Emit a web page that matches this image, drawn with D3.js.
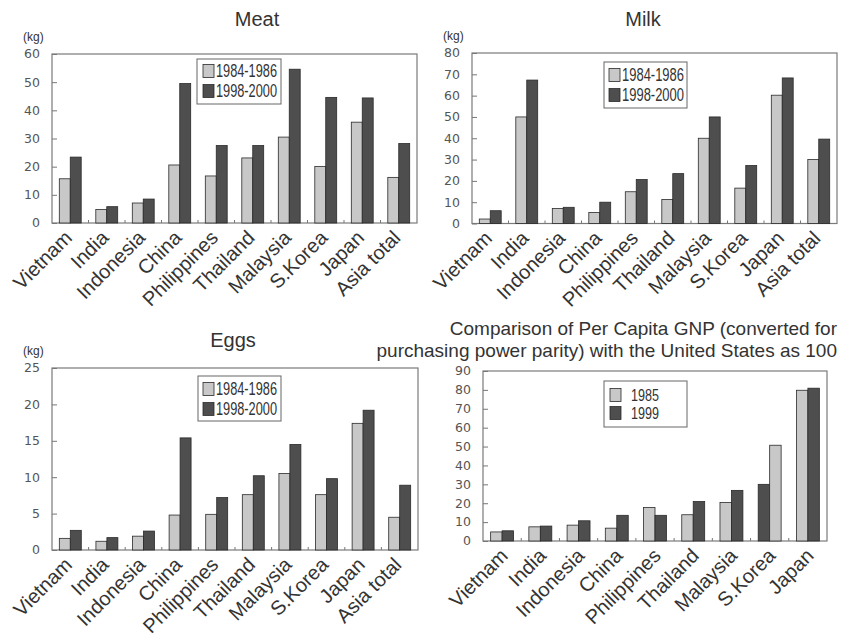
<!DOCTYPE html>
<html>
<head>
<meta charset="utf-8">
<script src="https://cdn.jsdelivr.net/npm/d3@7"></script>
<style>
  html, body { margin: 0; padding: 0; background: #fff; }
  svg { display: block; font-family: "Liberation Sans", Arial, sans-serif; }
</style>
</head>
<body>
<svg id="chart" width="843" height="636"></svg>
<script>
// food supply per capita (kg / year)
const foodCountries = ["Vietnam", "India", "Indonesia", "China", "Philippines", "Thailand", "Malaysia", "S.Korea", "Japan", "Asia total"];
const periodLabels = ["1984-1986", "1998-2000"];
const meat8486 = [15.7, 4.8, 7.1, 20.6, 16.7, 23.1, 30.5, 20.1, 35.8, 16.2];
const meat9800 = [23.4, 5.8, 8.5, 49.5, 27.5, 27.5, 54.6, 44.6, 44.4, 28.2];
const milk8486 = [2.1, 50, 7, 5.2, 14.9, 11.3, 40, 16.6, 60.2, 30];
const milk9800 = [6, 67.3, 7.6, 10, 20.6, 23.4, 50, 27.2, 68.3, 39.6];
const eggs8486 = [1.6, 1.2, 1.9, 4.8, 4.9, 7.6, 10.5, 7.6, 17.4, 4.5];
const eggs9800 = [2.7, 1.7, 2.6, 15.4, 7.2, 10.2, 14.5, 9.8, 19.2, 8.9];
const meatTicks = [0, 10, 20, 30, 40, 50, 60];
const milkTicks = [0, 10, 20, 30, 40, 50, 60, 70, 80];
const eggsTicks = [0, 5, 10, 15, 20, 25];

// GNP per capita (PPP), USA = 100
const gnpCountries = ["Vietnam", "India", "Indonesia", "China", "Philippines", "Thailand", "Malaysia", "S.Korea", "Japan"];
const gnpYears = ["1985", "1999"];
const gnp1985 = [4.8, 7.5, 8.4, 6.8, 17.7, 13.9, 20.4, 30, 79.8];
const gnp1999 = [5.4, 7.9, 10.7, 13.6, 13.6, 20.9, 26.8, 50.7, 80.9];
const gnpTicks = [0, 10, 20, 30, 40, 50, 60, 70, 80, 90];
// the original draws these bars with swapped shades
const swappedShade = ["S.Korea"];

const LIGHT = "#c8c8c8", DARK = "#4e4e4e";
const svg = d3.select("#chart");

function drawPanel(p) {
  const g = svg.append("g");
  const x = d3.scaleBand().domain(p.cats).range([p.left, p.right]).paddingInner(0.4).paddingOuter(0.2);
  const x1 = d3.scaleBand().domain([0, 1]).range([0, x.bandwidth()]);
  const y = d3.scaleLinear().domain([0, p.max]).range([p.bottom, p.top]);

  // frame
  g.append("rect")
    .attr("x", p.left).attr("y", p.top)
    .attr("width", p.right - p.left).attr("height", p.bottom - p.top)
    .attr("fill", "none").attr("stroke", "#7a7a7a").attr("stroke-width", 1.2);

  // y axis, ticks pointing inward
  const ya = g.append("g")
    .attr("transform", `translate(${p.left},0)`)
    .call(d3.axisRight(y).tickValues(p.ticks).tickSize(5).tickFormat(""));
  ya.select(".domain").remove();
  ya.selectAll("line").attr("stroke", "#777");
  g.selectAll(".ylab").data(p.ticks).enter().append("text")
    .attr("x", p.left - 12)
    .attr("y", d => y(d))
    .attr("dy", "0.35em")
    .attr("text-anchor", "end")
    .style("font-family", "'DejaVu Sans', sans-serif")
    .style("font-size", "12.5px")
    .attr("fill", "#555")
    .text(d => d);

  // small boundary ticks on the category axis
  g.selectAll(".xtick").data(p.cats.slice(1)).enter().append("line")
    .attr("x1", d => x(d) - x.step() * x.paddingInner() / 2)
    .attr("x2", d => x(d) - x.step() * x.paddingInner() / 2)
    .attr("y1", p.bottom).attr("y2", p.bottom - 3)
    .attr("stroke", "#777");

  // bars
  p.series.forEach((vals, si) => {
    g.selectAll(null).data(p.cats).enter().append("rect")
      .attr("x", d => x(d) + x1(si))
      .attr("y", (d, i) => y(vals[i]))
      .attr("width", x1.bandwidth())
      .attr("height", (d, i) => p.bottom - y(vals[i]))
      .attr("fill", d => {
        const swap = !!(p.swap && p.swap.includes(d));
        return (si === 0) !== swap ? LIGHT : DARK;
      })
      .attr("stroke", "#2a2a2a")
      .attr("stroke-width", 0.8);
  });

  // category labels
  g.selectAll(".xlab").data(p.cats).enter().append("text")
    .attr("transform", d => `translate(${x(d) + x.bandwidth() / 2 + p.labelDx},${p.bottom + 16}) rotate(-45)`)
    .attr("text-anchor", "end")
    .style("font-size", "20px")
    .attr("fill", "#333")
    .text(d => d);

  // title
  p.title.forEach((t, i) => {
    g.append("text")
      .attr("x", p.titleX).attr("y", p.titleY + i * 22)
      .attr("text-anchor", p.titleAnchor)
      .style("font-size", p.titleSize)
      .attr("fill", "#333")
      .text(t);
  });

  if (p.unit) {
    g.append("text")
      .attr("x", p.left - 29).attr("y", p.top - 13)
      .style("font-size", "12px")
      .attr("fill", "#333")
      .text(p.unit);
  }

  // legend
  const L = p.legend;
  const lg = g.append("g").attr("transform", `translate(${L.x},${L.y})`);
  lg.append("rect")
    .attr("width", L.w).attr("height", L.h)
    .attr("fill", "#fff").attr("stroke", "#666").attr("stroke-width", 1);
  p.names.forEach((name, i) => {
    const cy = L.row0 + i * L.rowGap;
    lg.append("rect")
      .attr("x", L.sx).attr("y", cy - 6.5)
      .attr("width", 11).attr("height", 13)
      .attr("fill", i === 0 ? LIGHT : DARK)
      .attr("stroke", "#2a2a2a").attr("stroke-width", 0.8);
    lg.append("text")
      .attr("x", L.tx).attr("y", cy)
      .attr("dy", "0.36em")
      .attr("textLength", L.tw)
      .attr("lengthAdjust", "spacingAndGlyphs")
      .style("font-size", L.fs)
      .attr("fill", "#333")
      .text(name);
  });
}

drawPanel({
  cats: foodCountries, series: [meat8486, meat9800], names: periodLabels,
  left: 52, right: 417, top: 54, bottom: 223, max: 60, ticks: meatTicks, labelDx: 3,
  title: ["Meat"], titleX: 257, titleY: 26, titleAnchor: "middle", titleSize: "20px", unit: "(kg)",
  legend: {x: 197, y: 59, w: 84, h: 45, sx: 6, tx: 19, tw: 61, row0: 12, rowGap: 20, fs: "18px"}
});

drawPanel({
  cats: foodCountries, series: [milk8486, milk9800], names: periodLabels,
  left: 472, right: 837, top: 53, bottom: 223.5, max: 80, ticks: milkTicks, labelDx: 3,
  title: ["Milk"], titleX: 643, titleY: 26, titleAnchor: "middle", titleSize: "20px", unit: "(kg)",
  legend: {x: 604, y: 62, w: 83, h: 46, sx: 5, tx: 18, tw: 62, row0: 13, rowGap: 20, fs: "18px"}
});

drawPanel({
  cats: foodCountries, series: [eggs8486, eggs9800], names: periodLabels,
  left: 52, right: 418, top: 368, bottom: 550, max: 25, ticks: eggsTicks, labelDx: 3,
  title: ["Eggs"], titleX: 233, titleY: 347, titleAnchor: "middle", titleSize: "20px", unit: "(kg)",
  legend: {x: 198, y: 376, w: 83, h: 45, sx: 5, tx: 18, tw: 61, row0: 13, rowGap: 20, fs: "18px"}
});

drawPanel({
  cats: gnpCountries, series: [gnp1985, gnp1999], names: gnpYears, swap: swappedShade,
  left: 483, right: 827, top: 371, bottom: 541, max: 90, ticks: gnpTicks, labelDx: 7,
  title: ["Comparison of Per Capita GNP (converted for", "purchasing power parity) with the United States as 100"],
  titleX: 837, titleY: 335, titleAnchor: "end", titleSize: "19px",
  legend: {x: 604, y: 381, w: 83, h: 46, sx: 6, tx: 27, tw: 28, row0: 14, rowGap: 18, fs: "17px"}
});
</script>
</body>
</html>
